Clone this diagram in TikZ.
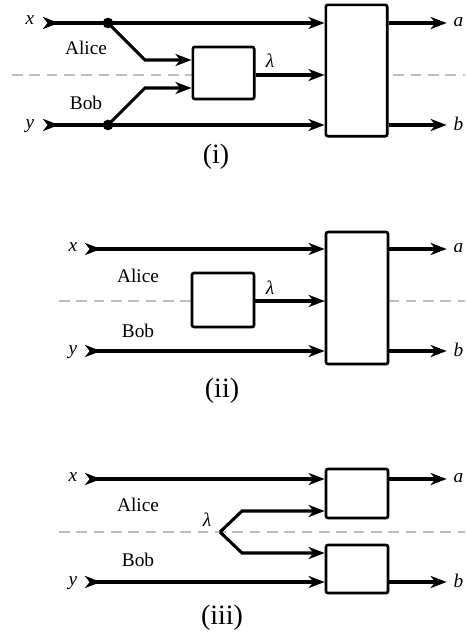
\documentclass[tikz,border=0pt]{standalone}
\usepackage{fontspec}
\setmainfont{Liberation Serif}
\usetikzlibrary{arrows.meta,shadows}
\begin{document}
\begin{tikzpicture}[x=0.75pt,y=-0.75pt,
  arr/.style={line width=2.3pt, -{Stealth[length=12pt,width=9pt,inset=3.5pt]}},
  inarr/.style={line width=2.3pt, {Stealth[length=12pt,width=9pt,inset=3.5pt,reversed]}-{Stealth[length=12pt,width=9pt,inset=3.5pt]}},
  sepline/.style={draw=gray!50, line width=1.7pt, dash pattern=on 8pt off 5pt},
  box/.style={draw, line width=2pt, fill=white, rounded corners=1.5pt, inner sep=0pt,
    drop shadow={opacity=0.3, shadow xshift=1pt, shadow yshift=-1pt}},
  dotn/.style={circle, fill, inner sep=0pt, minimum size=8pt},
  lab/.style={font=\fontsize{14.5}{16}\selectfont, inner sep=1pt},
  captext/.style={font=\fontsize{21}{24}\selectfont, inner sep=1pt}
]
\useasboundingbox (0,0) rectangle (465,636);

% ---------------- Panel (i) ----------------
\draw[sepline] (12,75) -- (465,75);
\node[box, minimum width=46pt, minimum height=98.5pt] (B1) at (356.5,70.5) {};
\node[box, minimum width=46pt, minimum height=39pt] (S1) at (223.5,73) {};
\node[lab] (x1) at (30,20) {\textit{x}};
\node[lab] (y1) at (30,126) {\textit{y}};
\coordinate (xs1) at (43,23);
\coordinate (ys1) at (43,125);
\node[dotn] (d1) at (108,23) {};
\node[dotn] (e1) at (108,125) {};
\coordinate (k1a) at (145,60);
\coordinate (k1b) at (145,88);
\coordinate (l1) at (260,75);
\draw[inarr] (xs1) -- (xs1 -| B1.west);
\draw[inarr] (ys1) -- (ys1 -| B1.west);
\draw[arr] (d1.center) -- (k1a) -- (k1a -| S1.west);
\draw[arr] (e1.center) -- (k1b) -- (k1b -| S1.west);
\draw[arr] (l1 -| S1.east) -- (l1 -| B1.west);
\node[lab] (lam1) at (270,61) {\textit{λ}};
\node[lab, anchor=west] (a1) at (452,22) {\textit{a}};
\node[lab, anchor=west] (b1) at (452,124) {\textit{b}};
\draw[arr] (B1.east |- xs1) -- ([xshift=-4pt]a1.west |- xs1);
\draw[arr] (B1.east |- ys1) -- ([xshift=-4pt]b1.west |- ys1);
\node[lab] (al1) at (86,48) {Alice};
\node[lab] (bo1) at (86,103) {Bob};
\node[captext] (c1) at (216,157) {(i)};

% ---------------- Panel (ii) ----------------
\draw[sepline] (59,301) -- (465,301);
\node[box, minimum width=46.5pt, minimum height=99pt] (B2) at (357,298) {};
\node[box, minimum width=46.5pt, minimum height=40.5pt] (S2) at (223,300) {};
\node[lab] (x2) at (73,247) {\textit{x}};
\node[lab] (y2) at (73,352) {\textit{y}};
\coordinate (xs2) at (85,249);
\coordinate (ys2) at (85,351);
\coordinate (l2) at (260,301);
\draw[inarr] (xs2) -- (xs2 -| B2.west);
\draw[inarr] (ys2) -- (ys2 -| B2.west);
\draw[arr] (l2 -| S2.east) -- (l2 -| B2.west);
\node[lab] (lam2) at (270,288) {\textit{λ}};
\node[lab, anchor=west] (a2) at (452,248) {\textit{a}};
\node[lab, anchor=west] (b2) at (452,350) {\textit{b}};
\draw[arr] (B2.east |- xs2) -- ([xshift=-4pt]a2.west |- xs2);
\draw[arr] (B2.east |- ys2) -- ([xshift=-4pt]b2.west |- ys2);
\node[lab] (al2) at (138,276) {Alice};
\node[lab] (bo2) at (138,331) {Bob};
\node[captext] (c2) at (222,391) {(ii)};

% ---------------- Panel (iii) ----------------
\draw[sepline] (59,532) -- (465,532);
\node[box, minimum width=46.5pt, minimum height=36.75pt] (U3) at (357,493.5) {};
\node[box, minimum width=46.5pt, minimum height=36pt] (L3) at (357,569) {};
\node[lab] (x3) at (73,477) {\textit{x}};
\node[lab] (y3) at (73,583) {\textit{y}};
\coordinate (xs3) at (85,479);
\coordinate (ys3) at (85,582);
\coordinate (v3) at (220,532);
\coordinate (k3a) at (242,511);
\coordinate (k3b) at (242,553);
\draw[inarr] (xs3) -- (xs3 -| U3.west);
\draw[inarr] (ys3) -- (ys3 -| L3.west);
\draw[arr] (v3) -- (k3a) -- (k3a -| U3.west);
\draw[arr] (v3) -- (k3b) -- (k3b -| L3.west);
\node[lab] (lam3) at (207,520) {\textit{λ}};
\node[lab, anchor=west] (a3) at (452,478) {\textit{a}};
\node[lab, anchor=west] (b3) at (452,581) {\textit{b}};
\draw[arr] (U3.east |- xs3) -- ([xshift=-4pt]a3.west |- xs3);
\draw[arr] (L3.east |- ys3) -- ([xshift=-4pt]b3.west |- ys3);
\node[lab] (al3) at (138,505) {Alice};
\node[lab] (bo3) at (138,560) {Bob};
\node[captext] (c3) at (222,618) {(iii)};
\end{tikzpicture}
\end{document}
